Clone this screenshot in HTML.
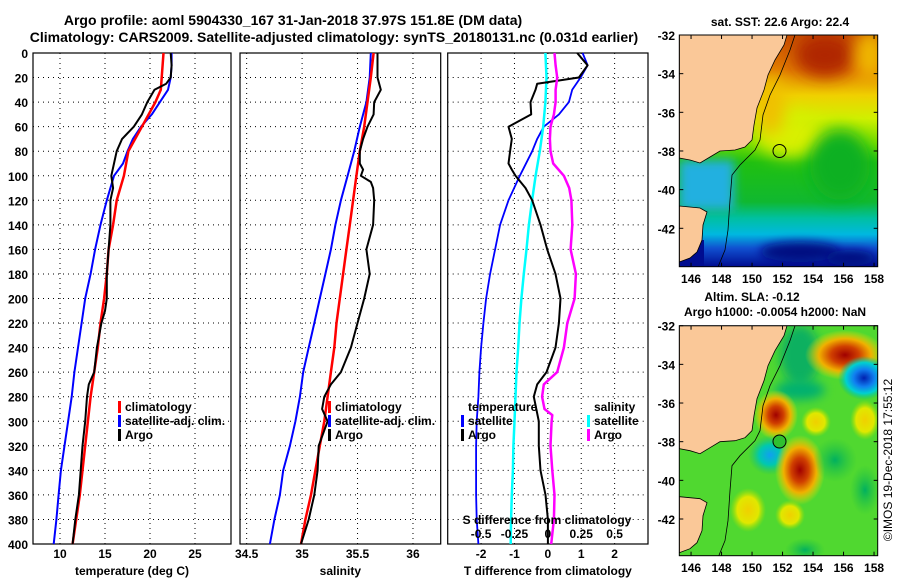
<!DOCTYPE html>
<html><head><meta charset="utf-8">
<style>
html,body{margin:0;padding:0;background:#fff;}
svg{display:block;font-family:"Liberation Sans",Arial,sans-serif;font-weight:bold;}
</style></head>
<body>
<svg id="fig" width="900" height="580" viewBox="0 0 900 580" xmlns="http://www.w3.org/2000/svg">
<defs>
<linearGradient id="sstg" x1="0" y1="0" x2="0" y2="1">
<stop offset="0" stop-color="#c85000"/><stop offset="0.15" stop-color="#e07800"/>
<stop offset="0.26" stop-color="#f0d000"/><stop offset="0.36" stop-color="#d0f000"/>
<stop offset="0.47" stop-color="#70dc00"/><stop offset="0.55" stop-color="#20c010"/>
<stop offset="0.72" stop-color="#10b830"/><stop offset="0.79" stop-color="#00c0a0"/>
<stop offset="0.86" stop-color="#00b8e0"/><stop offset="0.92" stop-color="#1050d0"/>
<stop offset="1" stop-color="#000c90"/></linearGradient>
<filter id="bl" x="-50%" y="-50%" width="200%" height="200%"><feGaussianBlur stdDeviation="8"/></filter>
<filter id="bl2" x="-50%" y="-50%" width="200%" height="200%"><feGaussianBlur stdDeviation="5"/></filter>
<clipPath id="m1c"><rect x="679.3" y="35" width="198.4" height="231.7"/></clipPath>
<clipPath id="m2c"><rect x="679.3" y="325.7" width="198.4" height="230"/></clipPath>
<radialGradient id="redb"><stop offset="0" stop-color="#a00000"/><stop offset="0.35" stop-color="#d04000"/><stop offset="0.65" stop-color="#f0b000"/><stop offset="1" stop-color="#f0e000" stop-opacity="0"/></radialGradient>
<radialGradient id="blueb"><stop offset="0" stop-color="#0020b0"/><stop offset="0.4" stop-color="#1080f0"/><stop offset="0.7" stop-color="#00d0d0"/><stop offset="1" stop-color="#00c080" stop-opacity="0"/></radialGradient>
<radialGradient id="cyanb"><stop offset="0" stop-color="#10a0f0"/><stop offset="0.5" stop-color="#00c8b0"/><stop offset="1" stop-color="#20c060" stop-opacity="0"/></radialGradient>
<radialGradient id="yelb"><stop offset="0" stop-color="#f0d000"/><stop offset="0.6" stop-color="#e0e800"/><stop offset="1" stop-color="#a0e000" stop-opacity="0"/></radialGradient>
<radialGradient id="tealb"><stop offset="0" stop-color="#00b060"/><stop offset="1" stop-color="#20c040" stop-opacity="0"/></radialGradient>
</defs>

<text x="293" y="25" font-size="14" text-anchor="middle">Argo profile: aoml 5904330_167 31-Jan-2018 37.97S 151.8E (DM data)</text>
<text x="334" y="42" font-size="14" text-anchor="middle">Climatology: CARS2009. Satellite-adjusted climatology: synTS_20180131.nc (0.031d earlier)</text>

<g id="panels"></g>

<!-- Map 1: SST -->
<g>
<text x="780" y="26" font-size="12" text-anchor="middle">sat. SST: 22.6 Argo: 22.4</text>
<g clip-path="url(#m1c)">
<rect x="679.3" y="35" width="198.4" height="231.7" fill="url(#sstg)"/>
<ellipse cx="825" cy="55" rx="30" ry="22" fill="#b02800" filter="url(#bl)"/>
<ellipse cx="870" cy="55" rx="15" ry="25" fill="#f0b800" filter="url(#bl)"/>
<ellipse cx="790" cy="135" rx="35" ry="22" fill="#d8f000" filter="url(#bl)"/>
<ellipse cx="770" cy="105" rx="15" ry="30" fill="#f0c000" filter="url(#bl)"/>
<ellipse cx="840" cy="165" rx="30" ry="35" fill="#10b020" filter="url(#bl)"/>
<rect x="679" y="160" width="55" height="50" fill="#20b0e0" filter="url(#bl2)"/>
<ellipse cx="800" cy="252" rx="40" ry="10" fill="#000a80" filter="url(#bl2)"/>
<ellipse cx="850" cy="258" rx="25" ry="8" fill="#000a80" filter="url(#bl2)"/>
<rect x="679" y="240" width="25" height="30" fill="#000c90"/>
<g fill="#fac898" stroke="#000" stroke-width="0.8">
<polygon points="679.3,35 787,35 784,45 775,60 768,75 764,90 757,108 754,125 752,140 745,147 735,150 720,151 710,157 700,163 690,160 679.3,158"/>
<polygon points="679.3,206 700,208 707,212 703,225 702,240 697,252 690,258 679.3,262"/>
</g>
<polyline points="795,35 790,50 780,75 770,95 763,115 760,140 755,150 740,165 732,175 730,200 728,230 725,250 718,267" fill="none" stroke="#000" stroke-width="0.8"/>
</g>
<rect x="679.3" y="35" width="198.4" height="231.7" fill="none" stroke="#000"/>
<circle cx="779.5" cy="151" r="6.5" fill="none" stroke="#000"/>
</g>

<!-- Map 2: SLA -->
<g>
<text x="752" y="301" font-size="12" text-anchor="middle">Altim. SLA: -0.12</text>
<text x="775" y="316" font-size="12" text-anchor="middle">Argo h1000: -0.0054 h2000: NaN</text>
<g clip-path="url(#m2c)">
<rect x="679.3" y="325.7" width="198.4" height="230" fill="#50d830"/>
<ellipse cx="800" cy="355" rx="20" ry="30" fill="#10b060" filter="url(#bl2)"/>
<ellipse cx="845" cy="355" rx="40" ry="25" fill="url(#redb)"/>
<ellipse cx="800" cy="390" rx="25" ry="10" fill="#00b070" filter="url(#bl2)"/>
<ellipse cx="864" cy="378" rx="26" ry="22" fill="url(#blueb)"/>
<ellipse cx="776" cy="415" rx="22" ry="25" fill="url(#redb)"/>
<ellipse cx="816" cy="422" rx="15" ry="15" fill="url(#yelb)"/>
<ellipse cx="865" cy="420" rx="15" ry="20" fill="url(#yelb)"/>
<ellipse cx="770" cy="455" rx="22" ry="20" fill="url(#cyanb)"/>
<ellipse cx="800" cy="470" rx="25" ry="35" fill="url(#redb)"/>
<ellipse cx="835" cy="460" rx="22" ry="22" fill="url(#tealb)"/>
<ellipse cx="748" cy="510" rx="18" ry="22" fill="url(#yelb)"/>
<ellipse cx="790" cy="515" rx="15" ry="15" fill="url(#yelb)"/>
<ellipse cx="805" cy="550" rx="20" ry="12" fill="url(#tealb)"/>
<ellipse cx="865" cy="490" rx="15" ry="25" fill="url(#tealb)"/>
<g transform="translate(0,290.7)">
<g fill="#fac898" stroke="#000" stroke-width="0.8">
<polygon points="679.3,35 787,35 784,45 775,60 768,75 764,90 757,108 754,125 752,140 745,147 735,150 720,151 710,157 700,163 690,160 679.3,158"/>
<polygon points="679.3,206 700,208 707,212 703,225 702,240 697,252 690,258 679.3,262"/>
</g>
<polyline points="795,35 790,50 780,75 770,95 763,115 760,140 755,150 740,165 732,175 730,200 728,230 725,250 718,267" fill="none" stroke="#000" stroke-width="0.8"/>
</g>
</g>
<rect x="679.3" y="325.7" width="198.4" height="230" fill="none" stroke="#000"/>
<circle cx="779.5" cy="441.5" r="6.5" fill="#30c030" stroke="#000"/>
</g>
<text transform="translate(892,460) rotate(-90)" font-size="12" font-weight="normal" text-anchor="middle">©IMOS 19-Dec-2018 17:55:12</text>
<g id="mapaxes"></g>
</svg>

<script>
// ---------- data ----------
const tempClimDepth = [0,10,20,30,40,60,80,100,120,140,160,180,200,220,240,260,280,300,320,340,360,380,400];
const tempClim      = [21.5,21.4,21.3,21.2,20.6,19.1,17.6,17.1,16.3,15.9,15.4,15.2,14.9,14.5,14.2,13.8,13.4,13.1,12.8,12.5,12.2,11.8,11.4];
const tempSatDepth  = [0,10,20,30,40,50,60,70,80,90,100,120,140,160,180,200,220,240,260,280,300,320,340,360,380,400];
const tempSat       = [22.4,22.4,22.3,22.0,21.1,20.2,19.0,18.1,17.5,17.0,16.0,15.2,14.5,13.9,13.4,12.8,12.4,12.0,11.6,11.3,10.9,10.5,10.1,9.85,9.6,9.3];
const tempArgoDepth = [0,10,20,25,30,40,50,60,70,80,90,100,110,120,140,160,180,200,210,220,240,260,270,280,300,320,340,360,380,400];
const tempArgo      = [22.3,22.4,22.3,21.8,20.5,19.7,19.1,18.2,16.9,16.3,16.0,15.7,15.9,15.6,15.6,15.4,15.2,15.2,15.0,14.6,14.1,13.8,13.2,13.0,12.8,12.5,12.3,12.1,11.7,11.4];

const salClimDepth = [0,20,40,60,80,100,120,140,160,180,200,220,240,260,280,300,320,340,360,380,400];
const salClim      = [35.645,35.62,35.59,35.56,35.52,35.49,35.46,35.43,35.40,35.37,35.34,35.31,35.29,35.26,35.23,35.20,35.16,35.12,35.08,35.03,34.99];
const salSat       = [35.62,35.61,35.58,35.52,35.47,35.41,35.35,35.30,35.26,35.21,35.16,35.11,35.06,35.01,34.98,34.94,34.89,34.83,34.80,34.75,34.71];
const salArgoDepth = [0,10,20,30,40,50,60,70,80,90,95,100,105,110,120,140,160,180,200,220,240,260,270,280,290,300,320,340,360,380,400];
const salArgo      = [35.68,35.68,35.68,35.71,35.65,35.645,35.59,35.55,35.52,35.52,35.55,35.53,35.62,35.64,35.65,35.64,35.58,35.61,35.56,35.50,35.44,35.35,35.26,35.20,35.18,35.23,35.15,35.14,35.11,35.06,34.99];

const dTSatDepth = [0,10,20,30,40,50,60,70,80,100,120,140,160,180,200,220,240,260,280,300,320,340,360,380,400];
const dTSat      = [1.04,1.19,0.98,0.73,0.63,0.33,-0.12,-0.32,-0.47,-0.84,-1.18,-1.43,-1.58,-1.73,-1.85,-1.93,-2.0,-2.05,-2.08,-2.13,-2.15,-2.15,-2.15,-2.13,-2.08];
const dSSatDepth = [0,20,40,60,80,100,120,140,160,180,200,220,240,260,280,300,320,340,360,380,400];
const dSSat      = [-0.018,-0.01,-0.018,-0.035,-0.06,-0.092,-0.118,-0.142,-0.16,-0.18,-0.198,-0.212,-0.222,-0.235,-0.242,-0.25,-0.258,-0.262,-0.27,-0.275,-0.278];
const dTArgoDepth = [0,10,20,25,30,40,50,60,70,80,90,95,100,110,120,140,160,180,200,220,240,260,270,280,300,320,340,360,380,400];
const dTArgo      = [0.88,1.19,0.93,-0.32,-0.37,-0.52,-0.5,-1.18,-1.08,-1.13,-1.18,-1.08,-0.97,-0.67,-0.47,-0.22,-0.02,0.23,0.38,0.33,0.23,-0.04,-0.32,-0.42,-0.27,-0.27,-0.22,-0.07,0,0];
const dSArgoDepth = [0,10,20,30,40,50,60,70,80,90,100,110,120,140,160,180,200,220,240,260,270,280,290,295,300,320,340,360,380,400];
const dSArgo      = [0.05,0.058,0.07,0.058,0.058,0.045,0.02,0.015,0.02,0.04,0.12,0.16,0.176,0.183,0.17,0.21,0.2,0.146,0.12,0.07,-0.03,-0.043,-0.025,0.033,0.028,0.02,0.033,0.05,0.045,0.025];

const depthTicks = [0,20,40,60,80,100,120,140,160,180,200,220,240,260,280,300,320,340,360,380,400];
const tempTicks = [10,15,20,25];
const salTicks = [34.5,35,35.5,36];
const dTTicks = [-2,-1,0,1,2];
const dSTicks = [-0.5,-0.25,0,0.25,0.5];
const lonTicks = [146,148,150,152,154,156,158];
const latTicks = [-32,-34,-36,-38,-40,-42];

// ---------- drawing ----------
const NS = 'http://www.w3.org/2000/svg';
const TOP = 53, BOT = 544;
function yD(d){ return TOP + d*(BOT-TOP)/400; }
function mk(tag, attrs, parent){
  const e = document.createElementNS(NS, tag);
  for (const k in attrs) e.setAttribute(k, attrs[k]);
  parent.appendChild(e); return e;
}
const root = document.getElementById('panels');

function panel(name, x0, x1, vmin, vmax, ticks, title, showDepth){
  const g = mk('g', {}, root);
  
  
  const xs = v => x0 + (v - vmin) * (x1 - x0) / (vmax - vmin);
  depthTicks.forEach(d => {
    if (d > 0 && d < 400) {
      const l = mk('line', {x1:x0, x2:x1, y1:yD(d), y2:yD(d), stroke:'#000', 'stroke-width':1, 'stroke-dasharray':'1,4'}, g);
      
      
    }
    if (showDepth) {
      const t = mk('text', {x:28, y:yD(d)+5, 'font-size':12, 'text-anchor':'end'}, g);
      
      
      t.textContent = d;
    }
  });
  ticks.forEach(v => {
    const x = xs(v);
    if (x > x0 + 1 && x < x1 - 1) {
      const l = mk('line', {x1:x, x2:x, y1:TOP, y2:BOT, stroke:'#000', 'stroke-width':1, 'stroke-dasharray':'1,4'}, g);
      
      
    }
    const t = mk('text', {x:x, y:558, 'font-size':12, 'text-anchor':'middle'}, g);
    
    
    t.textContent = v;
  });
  const fr = mk('rect', {x:x0, y:TOP, width:x1-x0, height:BOT-TOP, fill:'none', stroke:'#000', 'stroke-width':1.2}, g);
  
  
  const tt = mk('text', {x:(x0+x1)/2, y:575, 'font-size':12, 'text-anchor':'middle'}, g);
  
  
  tt.textContent = title;
  return {g, xs};
}
function line(p, depths, vals, color, w, name){
  const pts = depths.map((d,i) => p.xs(vals[i]).toFixed(1) + ',' + yD(d).toFixed(1)).join(' ');
  const l = mk('polyline', {points:pts, fill:'none', stroke:color, 'stroke-width':w, 'stroke-linejoin':'round'}, p.g);
  
  
}
function legend(g, x, y, color, label){
  const b = mk('rect', {x:x-7, y:y-10, width:3, height:12, fill:color}, g);
  
  
  if (label) {
    const t = mk('text', {x:x, y:y, 'font-size':12}, g);
    
    
    t.textContent = label;
  }
}

// Panel 1 temperature
const p1 = panel('temperature-panel', 33, 231, 7, 29, tempTicks, 'temperature (deg C)', true);
line(p1, tempSatDepth, tempSat, '#0000ff', 2, 'temp-satellite-line');
line(p1, tempClimDepth, tempClim, '#ff0000', 2.5, 'temp-climatology-line');
line(p1, tempArgoDepth, tempArgo, '#000', 2, 'temp-argo-line');
legend(p1.g, 125, 411, '#ff0000', 'climatology');
legend(p1.g, 125, 425, '#0000ff', 'satellite-adj. clim.');
legend(p1.g, 125, 439, '#000', 'Argo');

// Panel 2 salinity
const p2 = panel('salinity-panel', 240, 440.7, 34.44, 36.25, salTicks, 'salinity', false);
line(p2, salClimDepth, salSat, '#0000ff', 2, 'sal-satellite-line');
line(p2, salClimDepth, salClim, '#ff0000', 2.5, 'sal-climatology-line');
line(p2, salArgoDepth, salArgo, '#000', 2, 'sal-argo-line');
legend(p2.g, 335, 411, '#ff0000', 'climatology');
legend(p2.g, 335, 425, '#0000ff', 'satellite-adj. clim.');
legend(p2.g, 335, 439, '#000', 'Argo');

// Panel 3 differences
const p3 = panel('difference-panel', 447.7, 648, -3, 3, dTTicks, 'T difference from climatology', false);
const xsS = v => p3.xs(v*4);
const pS = {g:p3.g, xs:xsS};
line(p3, dTSatDepth, dTSat, '#0000ff', 1.8, 'dT-satellite-line');
line(pS, dSSatDepth, dSSat, '#00ffff', 2.5, 'dS-satellite-line');
line(p3, dTArgoDepth, dTArgo, '#000', 2, 'dT-argo-line');
line(pS, dSArgoDepth, dSArgo, '#ff00ff', 2.5, 'dS-argo-line');
(function(){
  const g = p3.g;
  const t1 = mk('text', {x:468, y:411, 'font-size':12}, g);
  
  
  t1.textContent = 'temperature';
  const t2 = mk('text', {x:594, y:411, 'font-size':12}, g);
  
  
  t2.textContent = 'salinity';
  legend(g, 468, 425, '#0000ff', 'satellite');
  legend(g, 468, 439, '#000', 'Argo');
  legend(g, 594, 425, '#00ffff', 'satellite');
  legend(g, 594, 439, '#ff00ff', 'Argo');
  const st = mk('text', {x:547, y:524, 'font-size':12, 'text-anchor':'middle'}, g);
  
  
  st.textContent = 'S difference from climatology';
  dSTicks.forEach(v => {
    const t = mk('text', {x:xsS(v), y:538, 'font-size':12, 'text-anchor':'middle'}, g);
    
    
    t.textContent = v;
  });
})();

// Map axes
const ma = document.getElementById('mapaxes');
const MX0 = 679.3, MX1 = 877.7, LON0 = 145.23, LON1 = 158.24;
const lonX = lon => MX0 + (lon - LON0) * (MX1 - MX0) / (LON1 - LON0);
const latY = (lat, top) => top + (-32 - lat) * 19.33;
[[35, 266.7, 283], [325.7, 555.7, 572]].forEach(([top, bot, ly]) => {
  lonTicks.forEach(lon => {
    const x = lonX(lon);
    mk('line', {x1:x, x2:x, y1:bot, y2:bot-4, stroke:'#000'}, ma);
    mk('line', {x1:x, x2:x, y1:top, y2:top+4, stroke:'#000'}, ma);
    const t = mk('text', {x:x, y:ly, 'font-size':12, 'text-anchor':'middle'}, ma);
    
    
    t.textContent = lon;
  });
  latTicks.forEach(lat => {
    const y = latY(lat, top);
    mk('line', {x1:MX0, x2:MX0+4, y1:y, y2:y, stroke:'#000'}, ma);
    mk('line', {x1:MX1, x2:MX1-4, y1:y, y2:y, stroke:'#000'}, ma);
    const t = mk('text', {x:675, y:y+5, 'font-size':12, 'text-anchor':'end'}, ma);
    
    
    t.textContent = lat;
  });
});
</script>
</body></html>
